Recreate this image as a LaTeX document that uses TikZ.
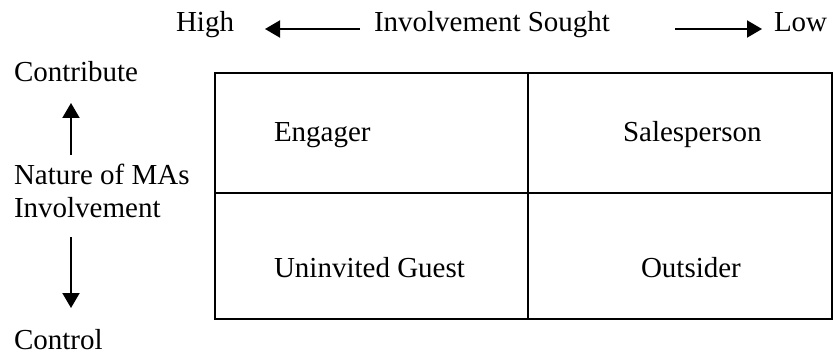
\documentclass[tikz,border=0pt]{standalone}
\usepackage{fontspec}
\setmainfont{Liberation Serif}
\usetikzlibrary{arrows.meta}
\begin{document}
\begin{tikzpicture}[x=1pt,y=-1pt,
                    line width=2pt,
                    label text/.style={anchor=base west,inner sep=0pt,font=\fontsize{29}{33}\selectfont},
                    axis arrow/.style={-{Triangle[length=15pt,width=17pt]}}]

        \useasboundingbox (0,0) rectangle (834,355);

        % Define labels
        \node[label text] (high) at (175,32) {High};
        \node[label text] (sought) at (373,32) {Involvement Sought};
        \node[label text] (low) at (773,32) {Low};
        \node[label text] (contribute) at (13,82) {Contribute};
        \node[label text] (nature) at (13,185) {Nature of MAs};
        \node[label text] (involvement) at (13,218) {Involvement};
        \node[label text] (control) at (13,349) {Control};

        % Define arrow ends
        \coordinate (hl) at (360,29);
        \coordinate (hr) at (265,29);
        \coordinate (ll) at (675,29);
        \coordinate (lr) at (762,29);
        \coordinate (ut) at (71,155);
        \coordinate (uh) at (71,103);
        \coordinate (dt) at (71,237);
        \coordinate (dh) at (71,308);

        \draw[axis arrow] (hl) -- (hr);
        \draw[axis arrow] (ll) -- (lr);
        \draw[axis arrow] (ut) -- (uh);
        \draw[axis arrow] (dt) -- (dh);

        % Define grid
        \coordinate (nw) at (215,73);
        \coordinate (se) at (832,319);
        \coordinate (top) at (528,73);
        \coordinate (bottom) at (528,319);
        \coordinate (left) at (215,193);
        \coordinate (right) at (832,193);

        \draw (nw) rectangle (se);
        \draw (top) -- (bottom);
        \draw (left) -- (right);

        % Define cells
        \node[label text] (engager) at (273,142) {Engager};
        \node[label text] (salesperson) at (622,142) {Salesperson};
        \node[label text] (guest) at (273,277) {Uninvited Guest};
        \node[label text] (outsider) at (640,277) {Outsider};
\end{tikzpicture}
\end{document}
